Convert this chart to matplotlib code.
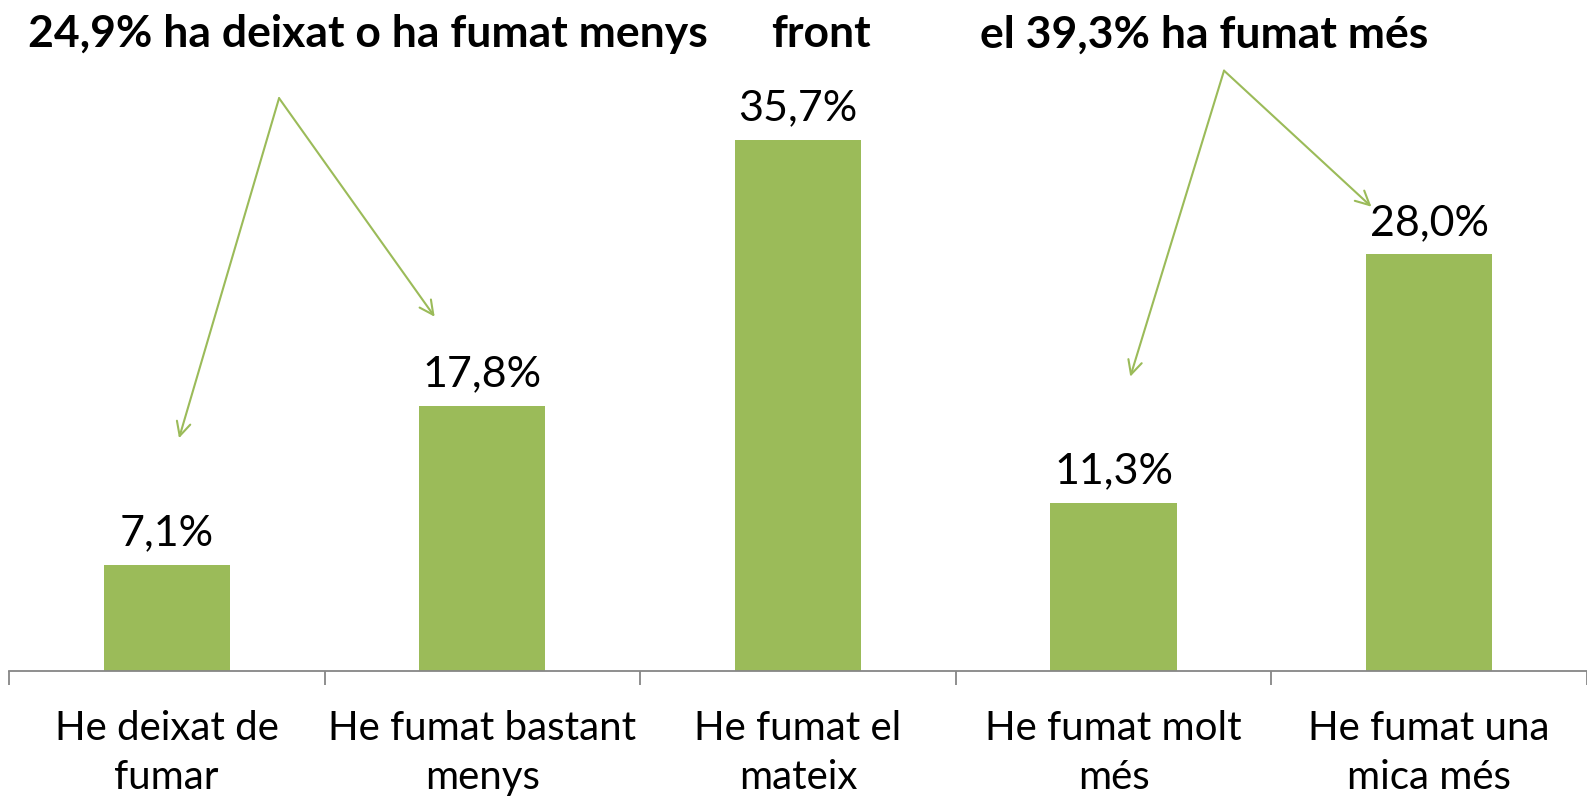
import numpy as np
import matplotlib.pyplot as plt

plt.rcParams['font.family'] = ['Lato', 'DejaVu Sans']

categories = ['He deixat de\nfumar', 'He fumat bastant\nmenys', 'He fumat el\nmateix',
              'He fumat molt\nmés', 'He fumat una\nmica més']
values = [7.1, 17.8, 35.7, 11.3, 28.0]
value_labels = ['7,1%', '17,8%', '35,7%', '11,3%', '28,0%']
green = '#9BBB59'

fig = plt.figure(figsize=(15.87, 7.97), dpi=100)
ax = fig.add_axes([0.0056, 0.1585, 0.9944, 0.8415])

x = np.arange(len(values))
ax.bar(x, values, width=0.4, color=green)

for xi, v, lab in zip(x, values, value_labels):
    ax.annotate(lab, (xi, v), xytext=(0, 9), textcoords='offset points',
                ha='center', va='bottom', fontsize=31)

ax.set_xlim(-0.5, 4.45)
ax.set_ylim(0, 45.1)
ax.set_yticks([])
for s in ['left', 'right', 'top']:
    ax.spines[s].set_visible(False)
ax.spines['bottom'].set_color('#868686')
ax.spines['bottom'].set_linewidth(1.3)

ax.set_xticks(x)
ax.set_xticklabels(categories, fontsize=29, linespacing=1.42)
ax.tick_params(axis='x', which='major', length=0, pad=28)
ax.set_xticks(np.arange(-0.5, 4.6, 1), minor=True)
ax.tick_params(axis='x', which='minor', length=10, width=1.3, color='#868686')

# group headings
ax.text(0.637, 42.8, '24,9% ha deixat o ha fumat menys', ha='center', va='center',
        fontsize=32, fontweight='bold')
ax.text(2.072, 42.8, 'front', ha='center', va='center', fontsize=32, fontweight='bold')
ax.text(3.288, 42.8, 'el 39,3% ha fumat més', ha='center', va='center',
        fontsize=32, fontweight='bold')

arrow = dict(arrowstyle='->', color=green, lw=1.5, mutation_scale=25, shrinkA=0, shrinkB=0)
ax.annotate('', xy=(0.039, 15.63), xytext=(0.356, 38.5), arrowprops=arrow)
ax.annotate('', xy=(0.849, 23.8), xytext=(0.356, 38.5), arrowprops=arrow)
ax.annotate('', xy=(3.053, 19.77), xytext=(3.350, 40.35), arrowprops=arrow)
ax.annotate('', xy=(3.817, 31.2), xytext=(3.350, 40.35), arrowprops=arrow)

fig.savefig('out.png', dpi=100)
